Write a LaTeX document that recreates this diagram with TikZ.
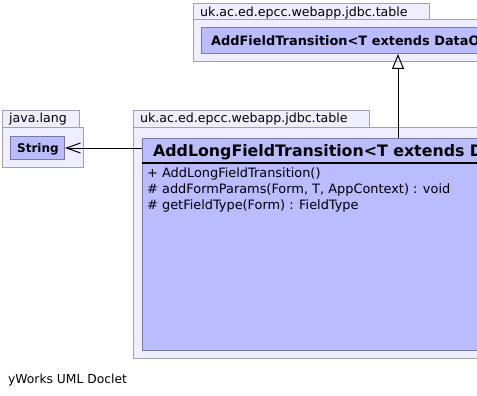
\documentclass[tikz,border=0pt]{standalone}
\usepackage{fontspec}
\setmainfont{DejaVu Sans}
\usetikzlibrary{arrows.meta}
\definecolor{pkgfill}{RGB}{238,238,255}
\definecolor{pkgline}{RGB}{160,160,180}
\definecolor{clsfill}{RGB}{187,187,255}
\definecolor{clsline}{RGB}{120,120,170}
\begin{document}
\begin{tikzpicture}[x=1pt,y=-1pt,
  pkg/.style={draw=pkgline,fill=pkgfill,line width=1pt,inner sep=0pt,anchor=north west},
  cls/.style={draw=clsline,fill=clsfill,line width=1pt,inner sep=0pt,anchor=north west},
  lbl/.style={inner sep=0pt,anchor=base west,font=\fontsize{12.6}{15}\selectfont},
  hdr/.style={inner sep=0pt,anchor=base west,font=\fontsize{15.8}{19}\selectfont\bfseries},
  sml/.style={inner sep=0pt,anchor=base west,font=\fontsize{12.9}{15}\selectfont\bfseries},
  op/.style={inner sep=0pt,anchor=base west,font=\fontsize{12.9}{15}\selectfont},
  gen/.style={line width=1pt,-{Triangle[open,length=15pt,width=12pt,line width=1pt]}},
  dep/.style={line width=1pt,-{Straight Barb[length=14pt,width=10pt,line width=1pt]}},
]
\useasboundingbox (0,0) rectangle (477,396);
\clip (0,0) rectangle (477,396);

% package uk.ac.ed.epcc.webapp.jdbc.table (top)
\node[pkg,minimum width=236pt,minimum height=16pt] (toptab) at (193,3) {};
\node[pkg,minimum width=320pt,minimum height=42pt] (topbody) at (193,19) {};
\node[lbl] (toplbl) at (200,16.5) {uk.ac.ed.epcc.webapp.jdbc.table};
\node[cls,minimum width=320pt,minimum height=26pt] (topclass) at (200.5,27) {};
\node[sml] (tophdr) at (211,45.5) {AddFieldTransition<T extends DataObject>};

% package java.lang
\node[pkg,minimum width=77pt,minimum height=17pt] (jtab) at (2,110) {};
\node[pkg,minimum width=81pt,minimum height=40pt] (jbody) at (2,127) {};
\node[lbl] (jlbl) at (9,123) {java.lang};
\node[cls,minimum width=54pt,minimum height=23pt] (string) at (10,136) {};
\node[sml,font=\fontsize{12}{14}\selectfont\bfseries] (stringlbl) at (17,152) {String};

% package uk.ac.ed.epcc.webapp.jdbc.table (main)
\node[pkg,minimum width=236pt,minimum height=17pt] (maintab) at (133,110) {};
\node[pkg,minimum width=380pt,minimum height=231pt] (mainbody) at (133,127) {};
\node[lbl] (mainlbl) at (140,123) {uk.ac.ed.epcc.webapp.jdbc.table};
\node[cls,minimum width=380pt,minimum height=212.5pt] (mainclass) at (141.5,137.5) {};
\draw[line width=2pt] (mainclass.north west) ++(0,25) -- ++(380,0);
\node[hdr] (mainhdr) at (153,157) {AddLongFieldTransition<T extends DataObject>};
\node[op] (op1) at (147,177) {+ AddLongFieldTransition()};
\node[op] (op2) at (147,193) {\# addFormParams(Form, T, AppContext) : void};
\node[op] (op3) at (147,209) {\# getFieldType(Form) : FieldType};

% connectors
\coordinate (gx) at (398,0);
\draw[gen] (gx |- mainclass.north) -- (gx |- topclass.south);
\draw[dep] (mainclass.west |- string.east) -- (string.east);

\node[op,font=\fontsize{12.3}{15}\selectfont] (footer) at (8,383) {yWorks UML Doclet};
\end{tikzpicture}
\end{document}
